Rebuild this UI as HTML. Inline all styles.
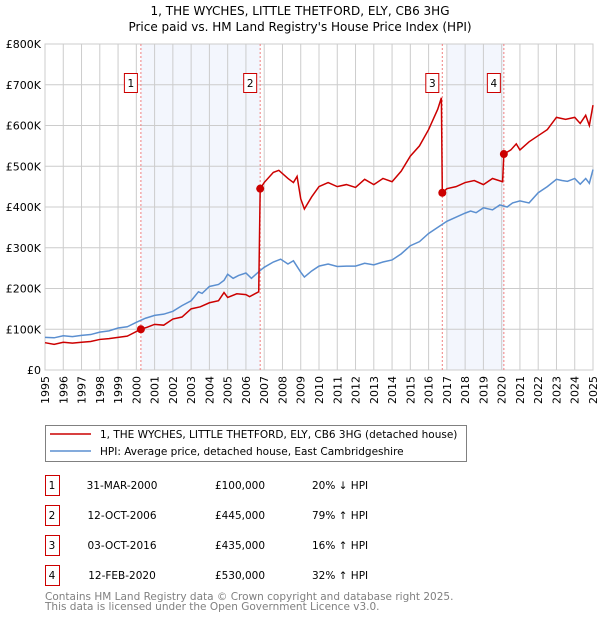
<!DOCTYPE html>
<html><head><meta charset="utf-8"><style>
html,body{margin:0;padding:0;background:#fff;width:600px;height:620px;overflow:hidden}
svg{display:block;font-family:"DejaVu Sans","Liberation Sans",sans-serif}
</style></head><body>
<svg id="chart" width="600" height="620" viewBox="0 0 600 620">
<text x="300" y="15" text-anchor="middle" font-size="12">1, THE WYCHES, LITTLE THETFORD, ELY, CB6 3HG</text>
<text x="300" y="31" text-anchor="middle" font-size="12">Price paid vs. HM Land Registry's House Price Index (HPI)</text>
<g id="plot"></g>
<g>
<rect x="45.5" y="425.5" width="421" height="36" fill="#fff" stroke="#808080"/>
<line x1="50" y1="434" x2="91" y2="434" stroke="#cc0000" stroke-width="1.5"/>
<text x="100" y="438" font-size="10.5">1, THE WYCHES, LITTLE THETFORD, ELY, CB6 3HG (detached house)</text>
<line x1="50" y1="451" x2="91" y2="451" stroke="#5b8fd0" stroke-width="1.5"/>
<text x="100" y="455" font-size="10.5">HPI: Average price, detached house, East Cambridgeshire</text>
</g>
<g id="table" font-size="10.5"></g>
<text x="45" y="600" font-size="10.5" fill="#808080">Contains HM Land Registry data © Crown copyright and database right 2025.</text>
<text x="45" y="610" font-size="10.5" fill="#808080">This data is licensed under the Open Government Licence v3.0.</text>
</svg>
<script>
const yTicks=[0,100,200,300,400,500,600,700,800];
const yTickLabels=["£0","£100K","£200K","£300K","£400K","£500K","£600K","£700K","£800K"];
const xYears=[1995,1996,1997,1998,1999,2000,2001,2002,2003,2004,2005,2006,2007,2008,2009,2010,2011,2012,2013,2014,2015,2016,2017,2018,2019,2020,2021,2022,2023,2024,2025];
const hpiT=[1995,1995.5,1996,1996.5,1997,1997.5,1998,1998.5,1999,1999.5,2000,2000.5,2001,2001.5,2002,2002.5,2003,2003.4,2003.6,2004,2004.5,2004.8,2005,2005.3,2005.6,2006,2006.3,2006.8,2007,2007.5,2007.9,2008.3,2008.6,2009,2009.2,2009.6,2010,2010.5,2011,2011.5,2012,2012.5,2013,2013.5,2014,2014.5,2015,2015.5,2016,2016.5,2017,2017.5,2018,2018.3,2018.6,2019,2019.5,2019.9,2020.3,2020.6,2021,2021.5,2022,2022.5,2023,2023.3,2023.6,2024,2024.3,2024.6,2024.8,2025];
const hpiV=[80,79,84,82,85,87,93,96,103,106,117,127,134,137,144,158,170,192,188,205,210,220,235,225,232,238,225,245,252,265,272,260,268,240,228,243,255,260,254,255,255,262,258,265,270,285,305,315,335,350,365,375,385,390,386,398,393,405,400,410,415,410,435,450,468,465,463,470,456,470,458,492];
const redT=[1995,1995.5,1996,1996.5,1997,1997.5,1998,1998.5,1999,1999.5,2000.25,2000.6,2001,2001.5,2002,2002.5,2003,2003.5,2004,2004.5,2004.8,2005,2005.5,2006,2006.2,2006.7,2006.78,2007,2007.5,2007.8,2008.3,2008.6,2008.8,2009,2009.2,2009.6,2010,2010.5,2011,2011.5,2012,2012.5,2013,2013.5,2014,2014.5,2015,2015.5,2016,2016.5,2016.7,2016.75,2017,2017.5,2018,2018.5,2019,2019.5,2020.05,2020.12,2020.5,2020.8,2021,2021.5,2022,2022.5,2023,2023.5,2024,2024.3,2024.6,2024.8,2025];
const redV=[67,63,68,66,68,70,75,77,80,83,100,105,112,110,125,130,150,155,165,170,190,178,187,185,180,192,445,460,485,490,470,460,475,420,395,425,450,460,450,455,448,468,455,470,462,488,525,550,590,640,668,435,445,450,460,465,455,470,462,530,540,555,540,560,575,590,620,615,620,605,625,600,650];
const saleT=[2000.25,2006.78,2016.75,2020.12];
const saleV=[100,445,435,530];
const saleLabels=["1","2","3","4"];
const saleDates=["31-MAR-2000","12-OCT-2006","03-OCT-2016","12-FEB-2020"];
const salePrices=["£100,000","£445,000","£435,000","£530,000"];
const saleHpi=["20% ↓ HPI","79% ↑ HPI","16% ↑ HPI","32% ↑ HPI"];
const shadeStart=[2000.25,2017.0];
const shadeEnd=[2006.78,2020.12];

const X0=45,X1=593,Y0=370,Y1=44;
const sx=t=>X0+(t-1995)/30*(X1-X0);
const sy=v=>Y0-v/800*(Y0-Y1);
const NS="http://www.w3.org/2000/svg";
const plot=document.getElementById('plot');
function mk(tag,attrs,parent){const e=document.createElementNS(NS,tag);for(const k in attrs)e.setAttribute(k,attrs[k]);(parent||plot).appendChild(e);return e;}
shadeStart.forEach((a,i)=>{
 const r=mk('rect',{x:sx(a),y:Y1,width:sx(shadeEnd[i])-sx(a),height:Y0-Y1,fill:'#f3f6fd'});
 
 
});
xYears.forEach(y=>{const l=mk('line',{x1:sx(y),x2:sx(y),y1:Y1,y2:Y0,stroke:'#cccccc','stroke-width':1});
 
 
 const t=mk('text',{x:0,y:0,'font-size':11,'text-anchor':'end',transform:`translate(${sx(y)+4},${Y0+6}) rotate(-90)`});
 t.textContent=y;
 
 
});
yTicks.forEach((v,i)=>{const l=mk('line',{x1:X0,x2:X1,y1:sy(v),y2:sy(v),stroke:'#cccccc','stroke-width':1});
 
 
 const t=mk('text',{x:X0-4,y:sy(v)+4,'font-size':11,'text-anchor':'end'});
 t.textContent=yTickLabels[i];
 
 
});
const fr=mk('rect',{x:X0,y:Y1,width:X1-X0,height:Y0-Y1,fill:'none',stroke:'#cccccc'});


saleT.forEach((t,i)=>{
 const l=mk('line',{x1:sx(t),x2:sx(t),y1:Y1,y2:Y0,stroke:'#f08080','stroke-width':1,'stroke-dasharray':'2,2'});
 
 
 const b=mk('rect',{x:sx(t)-16.5,y:73.5,width:13,height:19,fill:'#fff',stroke:'#cc0000'});
 
 
 const tx=mk('text',{x:sx(t)-10,y:87,'font-size':10.5,'text-anchor':'middle'});
 tx.textContent=saleLabels[i];
 
 
});
const hp=mk('polyline',{points:hpiT.map((t,i)=>sx(t)+','+sy(hpiV[i])).join(' '),fill:'none',stroke:'#5b8fd0','stroke-width':1.5});


const rp=mk('polyline',{points:redT.map((t,i)=>sx(t)+','+sy(redV[i])).join(' '),fill:'none',stroke:'#cc0000','stroke-width':1.5});


saleT.forEach((t,i)=>{const c=mk('circle',{cx:sx(t),cy:sy(saleV[i]),r:4,fill:'#cc0000'});
 
 
});
const tb=document.getElementById('table');
saleLabels.forEach((s,i)=>{
 const y=475+i*30;
 const b=mk('rect',{x:45.5,y:y+0.5,width:14,height:20,fill:'#fff',stroke:'#cc0000'},tb);
 
 
 const cols=[[52,s,'middle'],[122,saleDates[i],'middle'],[240,salePrices[i],'middle'],[312,saleHpi[i],'start']];
 cols.forEach((c,j)=>{const t=mk('text',{x:c[0],y:y+14,'text-anchor':c[2]},tb);t.textContent=c[1];
  
  });
});
</script>
</body></html>
